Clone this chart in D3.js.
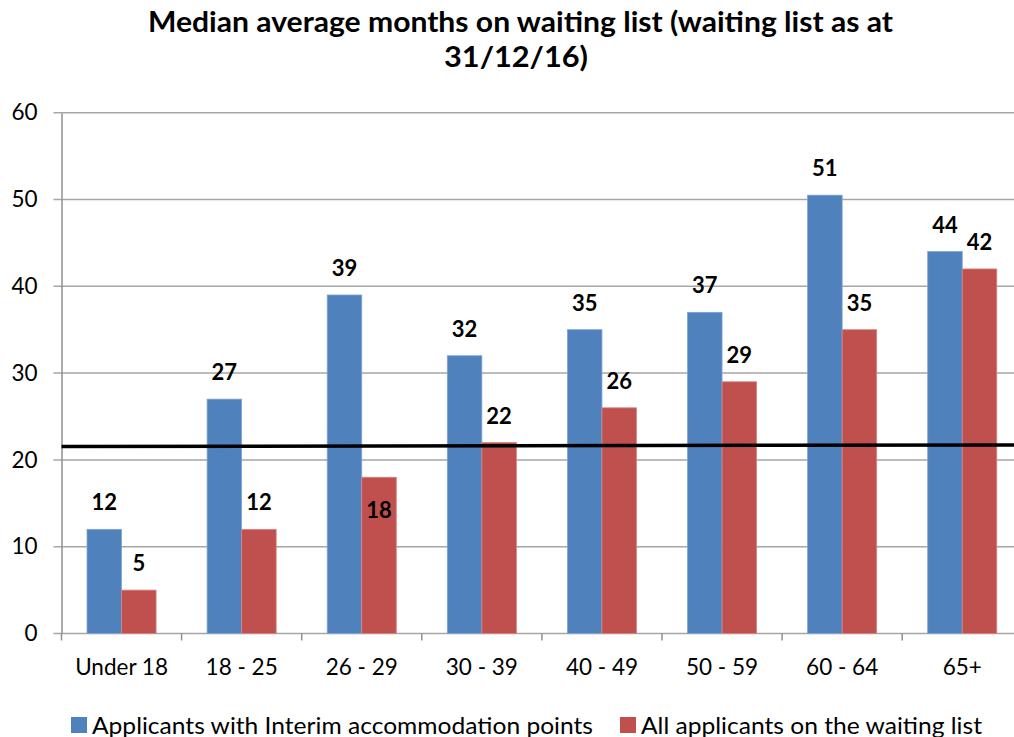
<!DOCTYPE html>
<html><head><meta charset="utf-8">
<script src="https://cdn.jsdelivr.net/npm/d3@7"></script>
<style>
html,body{margin:0;padding:0;background:#fff;}
svg{display:block;font-family:Lato, "Open Sans", sans-serif;}
</style></head>
<body>
<svg id="chart" width="1014" height="737"></svg>
<script>
const categories = ["Under 18","18 - 25","26 - 29","30 - 39","40 - 49","50 - 59","60 - 64","65+"];
const seriesNames = ["Applicants with Interim accommodation points","All applicants on the waiting list"];
const interimValues = [12, 27, 39, 32, 35, 37, 50.5, 44];
const interimLabels = ["12","27","39","32","35","37","51","44"];
const allValues = [5, 12, 18, 22, 26, 29, 35, 42];
const allLabels = ["5","12","18","22","26","29","35","42"];
const yTicks = [0, 10, 20, 30, 40, 50, 60];
const refLine = [21.55, 21.73];
const titleLines = ["Median average months on waiting list (waiting list as at", "31/12/16)"];
const colors = ["#4F81BD", "#C0504D"];

const svg = d3.select("#chart");
const plotLeft = 61.5, plotTop = 112.7, plotBottom = 633.5, step = 120.1;
const x = d3.scaleBand().domain(categories).range([plotLeft, plotLeft + step * categories.length]).padding(0);
const inner = d3.scaleBand().domain([0,1]).range([0, x.bandwidth()]).paddingInner(0).paddingOuter(0.739);
const y = d3.scaleLinear().domain([0, 60]).range([plotBottom, plotTop]);

// gridlines
svg.append("g").selectAll("line").data(yTicks).join("line")
  .attr("x1", plotLeft - 8).attr("x2", 1014)
  .attr("y1", d => y(d)).attr("y2", d => y(d))
  .attr("stroke", "#a6a6a6").attr("stroke-width", 1.5);

// y axis
const yAxis = svg.append("g").attr("transform", `translate(${plotLeft},0)`)
  .call(d3.axisLeft(y).tickValues(yTicks).tickSize(0).tickPadding(24));
yAxis.select(".domain").attr("stroke", "#909090").attr("stroke-width", 1.5);
yAxis.selectAll("text").attr("font-size", 22.5).attr("fill", "#000").attr("font-family", "Lato");

// x axis
const xAxis = svg.append("g").attr("transform", `translate(0,${plotBottom})`)
  .call(d3.axisBottom(x).tickSize(0).tickPadding(26));
xAxis.select(".domain").remove();
xAxis.selectAll("text").attr("font-size", 22.5).attr("fill", "#000").attr("font-family", "Lato");
svg.append("g").selectAll("line").data(d3.range(categories.length + 1)).join("line")
  .attr("x1", i => plotLeft + i * step).attr("x2", i => plotLeft + i * step)
  .attr("y1", plotBottom).attr("y2", plotBottom + 7)
  .attr("stroke", "#909090").attr("stroke-width", 1.5);

// bars
const series = [interimValues, allValues];
const labels = [interimLabels, allLabels];
series.forEach((vals, s) => {
  svg.append("g").selectAll("rect").data(vals).join("rect")
    .attr("x", (d, i) => x(categories[i]) + inner(s))
    .attr("width", inner.bandwidth())
    .attr("y", d => y(d))
    .attr("height", d => plotBottom - y(d))
    .attr("fill", colors[s])
    .attr("stroke", s === 0 ? "#7FA3D3" : "#D58583").attr("stroke-width", 0.8);
});

// reference line
svg.append("line")
  .attr("x1", plotLeft).attr("x2", 1014)
  .attr("y1", y(refLine[0])).attr("y2", y(refLine[1]))
  .attr("stroke", "#000").attr("stroke-width", 3.5);

// data labels
series.forEach((vals, s) => {
  svg.append("g").selectAll("text").data(vals).join("text")
    .attr("x", (d, i) => x(categories[i]) + inner(s) + inner.bandwidth() / 2)
    .attr("y", (d, i) => (s === 1 && i === 2) ? y(d) + 41 : y(d) - 19)
    .attr("text-anchor", "middle")
    .attr("font-size", 22).attr("font-weight", "bold").attr("fill", "#000")
    .text((d, i) => labels[s][i]);
});

// title
const titleWidths = [745, 144];
svg.append("g").selectAll("text").data(titleLines).join("text")
  .attr("x", (d, i) => i === 0 ? 520.5 : 516).attr("y", (d, i) => 32 + i * 35)
  .attr("text-anchor", "middle")
  .attr("font-size", 28.5).attr("font-weight", "bold").attr("fill", "#000")
  .attr("textLength", (d, i) => titleWidths[i]).attr("lengthAdjust", "spacingAndGlyphs")
  .text(d => d);

// legend
const legendX = [71, 620];
const legendW = [501, 341];
const lg = svg.append("g").selectAll("g").data(seriesNames).join("g")
  .attr("transform", (d, i) => `translate(${legendX[i]},717)`);
lg.append("rect").attr("width", 16).attr("height", 16)
  .attr("fill", (d, i) => colors[i]);
lg.append("text").attr("x", 21).attr("y", 16.5)
  .attr("font-size", 23).attr("fill", "#000")
  .attr("textLength", (d, i) => legendW[i]).attr("lengthAdjust", "spacingAndGlyphs")
  .text(d => d);
</script>
</body></html>
